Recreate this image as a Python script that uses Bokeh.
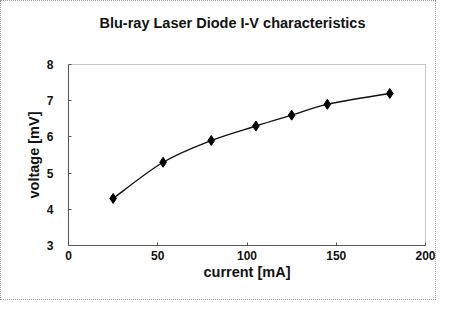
from bokeh.plotting import figure
from bokeh.embed import file_html
from bokeh.resources import INLINE
from bokeh.models import FixedTicker, Range1d, Title
import numpy as np

# Data
current_mA = [25, 53, 80, 105, 125, 145, 180]
voltage_mV = [4.3, 5.3, 5.9, 6.3, 6.6, 6.9, 7.2]
x_ticks = [0, 50, 100, 150, 200]
y_ticks = [3, 4, 5, 6, 7, 8]

FONT = "Liberation Sans"

p = figure(width=436, height=300, output_backend="svg", toolbar_location=None,
           x_range=Range1d(0, 200), y_range=Range1d(3, 8),
           title="Blu-ray Laser Diode I-V characteristics",
           min_border_left=67, min_border_right=12, min_border_top=63, min_border_bottom=56)

p.styles = {"border": "1px dotted #9a9a9a", "box-sizing": "border-box"}

p.title.text_font = FONT
p.title.text_font_size = "14.5px"
p.title.text_font_style = "bold"
p.title.align = "left"
p.title.offset = 31
p.title.text_color = "#111111"

# empty spacer between title and frame
p.add_layout(Title(text=" ", text_font_size="16px"), "above")

p.grid.visible = False
p.outline_line_color = "#8a8a8a"
p.outline_line_dash = "1 1"
p.background_fill_color = "white"
p.border_fill_color = "white"

for ax in (p.xaxis[0], p.yaxis[0]):
    ax.axis_line_color = "#555555"
    ax.major_tick_line_color = "#555555"
    ax.minor_tick_line_color = None
    ax.major_tick_in = 3
    ax.major_tick_out = 0
    ax.major_label_text_font = FONT
    ax.major_label_text_font_size = "12px"
    ax.major_label_text_font_style = "bold"
    ax.major_label_text_color = "#111111"
    ax.axis_label_text_font = FONT
    ax.axis_label_text_font_size = "14.5px"
    ax.axis_label_text_font_style = "bold"
    ax.axis_label_text_color = "#111111"

p.xaxis.ticker = FixedTicker(ticks=x_ticks)
p.yaxis.ticker = FixedTicker(ticks=y_ticks)
p.xaxis.axis_label = "current [mA]"
p.yaxis.axis_label = "voltage [mV]"
p.xaxis.major_label_standoff = 5
p.yaxis.major_label_standoff = 15
p.xaxis.axis_label_standoff = 1
p.yaxis.axis_label_standoff = 2

# Smoothed line (Catmull-Rom style Bezier segments, as the spreadsheet's smoothed line)
x = np.array(current_mA, dtype=float)
y = np.array(voltage_mV, dtype=float)
xp = np.concatenate([[x[0]], x, [x[-1]]])
yp = np.concatenate([[y[0]], y, [y[-1]]])
n = len(x)
x0 = x[:-1]; y0 = y[:-1]; x1 = x[1:]; y1 = y[1:]
cx0 = x0 + (xp[2:n + 1] - xp[0:n - 1]) / 6.0
cy0 = y0 + (yp[2:n + 1] - yp[0:n - 1]) / 6.0
cx1 = x1 - (xp[3:n + 2] - xp[1:n]) / 6.0
cy1 = y1 - (yp[3:n + 2] - yp[1:n]) / 6.0
p.bezier(x0=x0, y0=y0, x1=x1, y1=y1, cx0=cx0, cy0=cy0, cx1=cx1, cy1=cy1,
         line_color="#111111", line_width=1.4)

p.scatter(current_mA, voltage_mV, marker="diamond", size=10,
          fill_color="black", line_color="black")

open("out.html", "w").write(file_html(p, INLINE))
